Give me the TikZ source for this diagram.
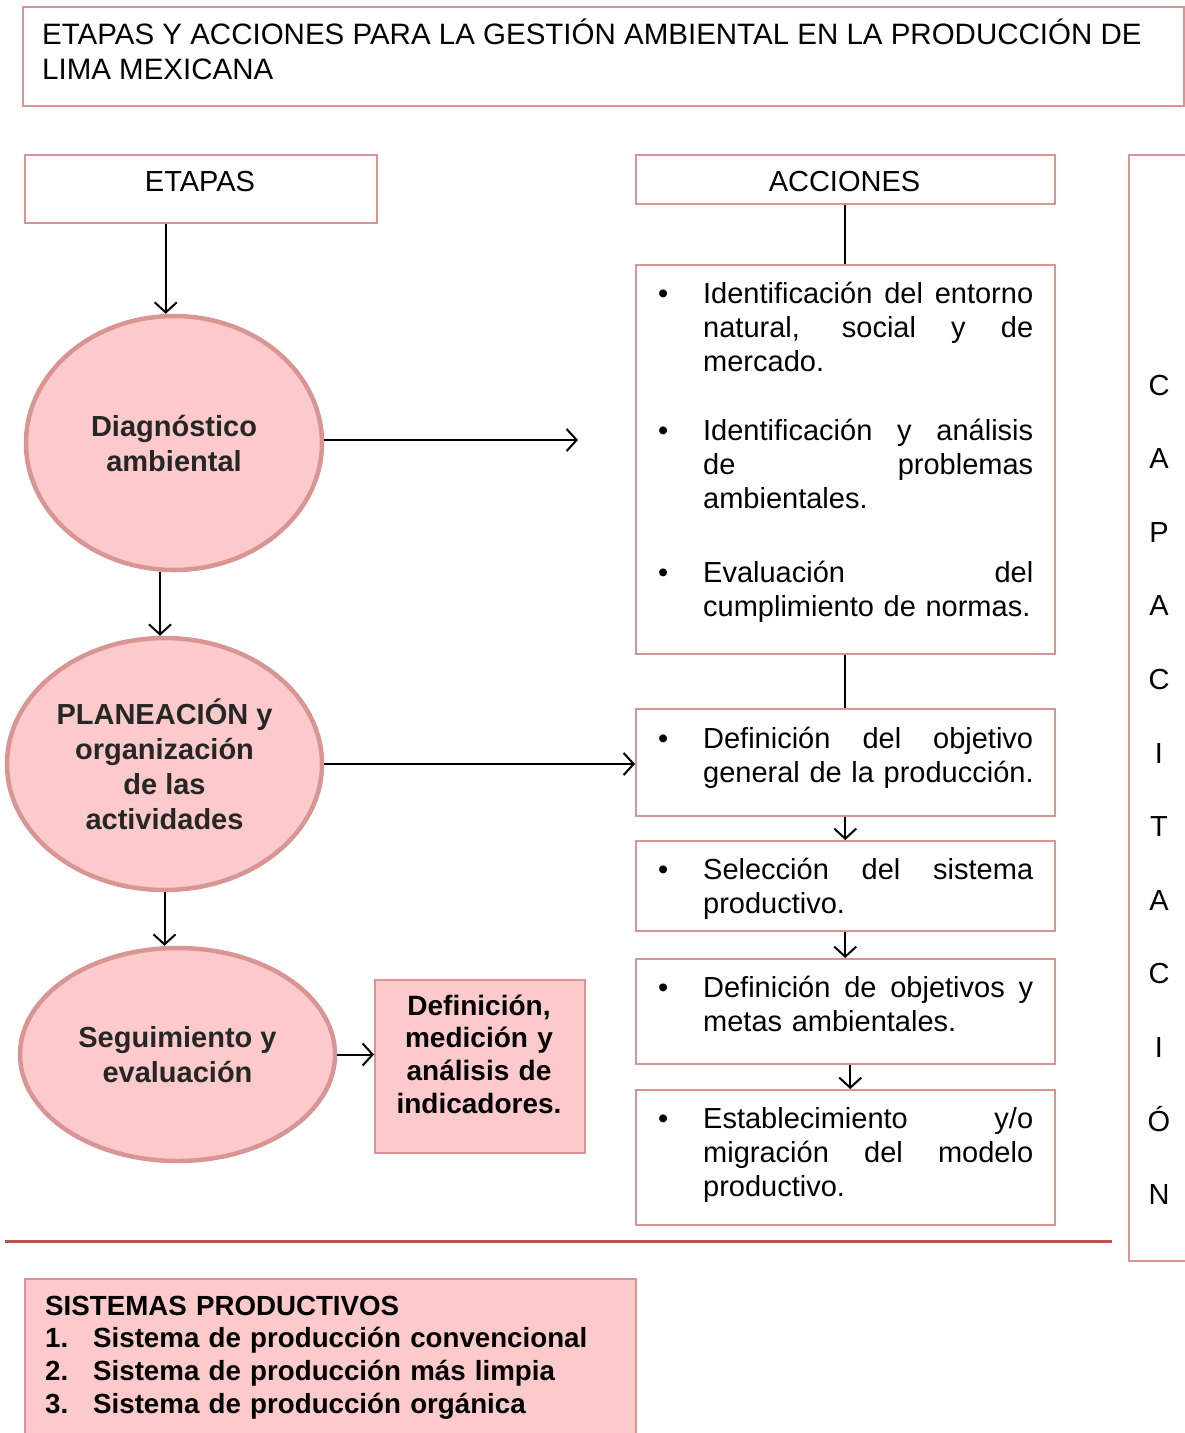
\documentclass[tikz,border=0pt]{standalone}
\usepackage{fontspec}
\setmainfont{Liberation Sans}
\usetikzlibrary{arrows.meta,shapes.geometric}
\definecolor{pinkfill}{RGB}{252,202,202}
\definecolor{pinkline}{RGB}{217,149,148}
\definecolor{redline}{RGB}{192,80,77}
\definecolor{dgray}{RGB}{38,38,38}
\newcommand{\bul}{\llap{\textbullet\hspace*{35pt}}}
\newcommand{\jl}[1]{\makebox[330pt][s]{\spaceskip=0.278em plus 1fil\relax #1}}
\begin{document}
\begin{tikzpicture}[x=1pt,y=-1pt,
  box/.style={draw=pinkline, line width=1.5pt, rectangle, inner sep=0, anchor=north west},
  pbox/.style={box, fill=pinkfill},
  ell/.style={ellipse, draw=pinkline, fill=pinkfill, line width=4.5pt, inner sep=0,
     text=dgray, font=\bfseries\fontsize{29}{35}\selectfont, align=center},
  reg/.style={inner sep=0, font=\fontsize{29}{34}\selectfont},
  act/.style={reg, anchor=base west, text width=400pt, align=left},
  arr/.style={line width=2pt, -{Straight Barb[length=10pt,width=22pt,line width=2pt]}},
  ln/.style={line width=2pt}
]
\useasboundingbox (0,0) rectangle (1184,1433);
% title
\node[box, minimum width=1161pt, minimum height=99pt] (title) at (22,6) {};
\node[inner sep=0, font=\fontsize{29.5}{35}\selectfont, anchor=base west] (t1) at (42,44) {ETAPAS Y ACCIONES PARA LA GESTIÓN AMBIENTAL EN LA PRODUCCIÓN DE};
\node[inner sep=0, font=\fontsize{29.5}{35}\selectfont, anchor=base west] (t2) at (42,79) {LIMA MEXICANA};
% headers
\node[box, minimum width=352pt, minimum height=68pt] (etapas) at (24,154) {};
\node[reg, anchor=base] (etapasT) at (200,191) {ETAPAS};
\node[box, minimum width=419pt, minimum height=49pt] (acc) at (635,154) {};
\node[reg, anchor=base] (accT) at (844.5,191) {ACCIONES};
% action boxes
\node[box, minimum width=419pt, minimum height=389pt] (a1) at (635,264) {};
\node[box, minimum width=419pt, minimum height=107pt] (a2) at (635,708) {};
\node[box, minimum width=419pt, minimum height=90pt] (a3) at (635,840) {};
\node[box, minimum width=419pt, minimum height=105pt] (a4) at (635,958) {};
\node[box, minimum width=419pt, minimum height=135pt] (a5) at (635,1089) {};
\node[act] (a1i1) at (703,303) {\bul\jl{Identificación del entorno}\\\jl{natural, social y de}\\mercado.};
\node[act] (a1i2) at (703,440) {\bul\jl{Identificación y análisis}\\\jl{de problemas}\\ambientales.};
\node[act] (a1i3) at (703,582) {\bul\jl{Evaluación del}\\cumplimiento de normas.};
\node[act] (a2i) at (703,748) {\bul\jl{Definición del objetivo}\\general de la producción.};
\node[act] (a3i) at (703,879) {\bul\jl{Selección del sistema}\\productivo.};
\node[act] (a4i) at (703,997) {\bul\jl{Definición de objetivos y}\\metas ambientales.};
\node[act] (a5i) at (703,1128) {\bul\jl{Establecimiento y/o}\\\jl{migración del modelo}\\productivo.};
% capacitacion
\node[box, minimum width=57pt, minimum height=1106pt] (cap) at (1128,154) {};
\node[inner sep=0, anchor=base, text width=40pt, align=center, font=\fontsize{29}{73.6}\selectfont] (capT) at (1159,395)
  {C\\A\\P\\A\\C\\I\\T\\A\\C\\I\\Ó\\N};
% ellipses
\node[ell, minimum width=296pt, minimum height=254pt] (e1) at (174,443) {Diagnóstico\\ambiental};
\node[ell, minimum width=315pt, minimum height=252pt] (e2) at (164.5,764) {PLANEACIÓN y\\organización\\de las\\actividades};
\node[ell, minimum width=315pt, minimum height=213pt] (e3) at (177.5,1054.5) {Seguimiento y\\evaluación};
% indicadores
\node[pbox, minimum width=210pt, minimum height=173pt] (ind) at (374,979) {};
\node[inner sep=0, anchor=base, text width=200pt, align=center, font=\bfseries\fontsize{28}{32.7}\selectfont] (indT) at (479,1015)
  {Definición,\\medición y\\análisis de\\indicadores.};
% separator
\draw[redline, line width=3pt] (5,1241) -- (1112,1241);
% sistemas
\node[pbox, minimum width=611pt, minimum height=170pt] (sis) at (24,1278) {};
\node[inner sep=0, anchor=base west, text width=580pt, align=left, font=\bfseries\fontsize{27.7}{32.7}\selectfont] (sisT) at (45,1315)
  {SISTEMAS PRODUCTIVOS\\\makebox[48pt][l]{1.}Sistema de producción convencional\\\makebox[48pt][l]{2.}Sistema de producción más limpia\\\makebox[48pt][l]{3.}Sistema de producción orgánica};
% connectors
\coordinate (e1end) at (578,440);
\draw[arr] ([xshift=-35pt]etapas.south) -- ([xshift=-35pt]etapas.south |- e1.north);
\draw[arr] ([xshift=-4.5pt]e2.north |- e1.south) -- ([xshift=-4.5pt]e2.north);
\draw[arr] (e2.south) -- (e2.south |- e3.north);
\draw[arr] (e1.east |- e1end) -- (e1end);
\draw[arr] (e2.east) -- (e2.east -| a2.west);
\draw[arr] (e3.east) -- (e3.east -| ind.west);
\draw[ln] (acc.south) -- (a1.north);
\draw[ln] (a1.south) -- (a2.north);
\draw[arr] (a2.south) -- (a3.north);
\draw[arr] (a3.south) -- (a4.north);
\draw[arr] ([xshift=5pt]a4.south) -- ([xshift=5pt]a5.north);
\end{tikzpicture}
\end{document}
